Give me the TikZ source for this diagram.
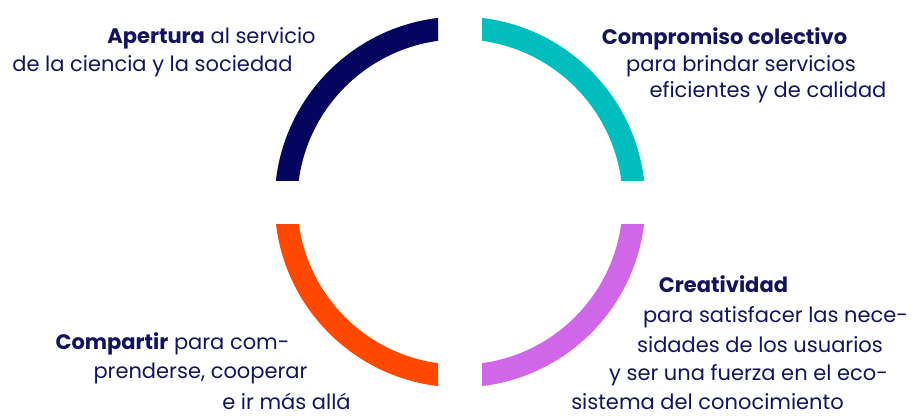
\documentclass[tikz,border=0pt]{standalone}
\usepackage{fontspec}
\setmainfont{Poppins}
\usepackage{tikz}
\usetikzlibrary{positioning}
\definecolor{ink}{HTML}{14145E}
\definecolor{navyarc}{HTML}{05055F}
\definecolor{tealarc}{HTML}{00BEBE}
\definecolor{orangearc}{HTML}{FF4800}
\definecolor{violetarc}{HTML}{D066E8}
\tikzstyle{textline}=[anchor=base,inner sep=0pt,text=ink,font=\fontsize{21}{25}\selectfont]
\tikzstyle{ring}=[draw,line width=22.7pt]

\begin{document}
\begin{tikzpicture}[x=1pt,y=-1pt]
  \useasboundingbox (0,0) rectangle (915,415);
  \coordinate (hub) at (460,202);

  % four quarters of the ring, cut by the gaps along both axes
  \foreach \corner/\col in {{(0,0) rectangle (438,180)/navyarc}, {(482,0) rectangle (915,180)/tealarc},
                            {(0,224) rectangle (438,415)/orangearc}, {(482,224) rectangle (915,415)/violetarc}}
  {
    \begin{scope}
      \clip \corner;
      \path[ring,\col] (hub) circle (174);
    \end{scope}
  }

  \foreach \pos/\name/\label in {{(211.5,43)/apA/{\textbf{Apertura} al servicio}}, {(152.5,71)/apB/de la ciencia y la sociedad}}
    \node[textline] (\name) at \pos {\label};

  \foreach \pos/\name/\label in {{(724.5,44)/coA/{\textbf{Compromiso colectivo}}}, {(741,71)/coB/para brindar servicios},
                                 {(768,97)/coC/eficientes y de calidad}}
    \node[textline] (\name) at \pos {\label};

  \foreach \pos/\name/\label in {{(172.5,349)/cpA/{\textbf{Compartir} para com-}}, {(200.5,378)/cpB/prenderse, cooperar},
                                 {(286.5,409)/cpC/e ir más allá}}
    \node[textline] (\name) at \pos {\label};

  \foreach \pos/\name/\label in {{(723.5,292)/crA/{\textbf{Creatividad}}}, {(775.5,322)/crB/para satisfacer las nece-},
                                 {(760,352)/crC/sidades de los usuarios}, {(748.5,380)/crD/y ser una fuerza en el eco-},
                                 {(707.5,409)/crE/sistema del conocimiento}}
    \node[textline] (\name) at \pos {\label};

\end{tikzpicture}
\end{document}
